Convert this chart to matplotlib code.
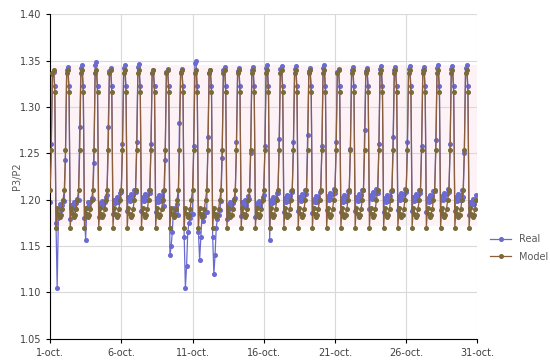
import numpy as np
import pandas as pd
import matplotlib
matplotlib.use('Agg')
import matplotlib.pyplot as plt

START = '2018-10-01'
N_DAYS = 30
STEPS = 12          # two-hourly samples

# two-hourly shape of one day for the model (peak in the early hours)
model_day = [1.210, 1.253, 1.336, 1.340, 1.316, 1.170,
             1.191, 1.185, 1.181, 1.184, 1.190, 1.200]

# two-hourly low-period shape of the measured ratio
real_day = [1.205, 1.260, 1.337, 1.340, 1.322, 1.185,
            1.200, 1.196, 1.203, 1.197, 1.202, 1.207]

real_peak = [1.338, 1.343, 1.345, 1.348, 1.342, 1.345, 1.346, 1.340, 1.341, 1.341,
             1.350, 1.340, 1.343, 1.342, 1.343, 1.345, 1.344, 1.344, 1.342, 1.345,
             1.341, 1.343, 1.342, 1.344, 1.343, 1.344, 1.343, 1.345, 1.344, 1.345]

real_rise = [1.260, 1.243, 1.278, 1.240, 1.278, 1.260, 1.262, 1.260, 1.243, 1.283,
             1.258, 1.268, 1.245, 1.262, 1.250, 1.258, 1.265, 1.262, 1.270, 1.258,
             1.262, 1.255, 1.275, 1.260, 1.268, 1.262, 1.258, 1.264, 1.260, 1.250]

real_shift = [-0.008, -0.006, -0.005, -0.004, 0.000, 0.003, 0.003, 0.002, -0.012, -0.022,
              -0.020, -0.018, -0.006, -0.003, -0.004, 0.000, 0.002, 0.003, 0.001, 0.004,
              0.002, 0.003, 0.005, 0.002, 0.004, 0.003, 0.002, 0.004, 0.003, -0.002]

# low excursions of the measured ratio: day -> {step: value}
real_dips = {
    0: {5: 1.175, 6: 1.105, 7: 1.180},
    2: {6: 1.157},
    8: {5: 1.140, 6: 1.150, 7: 1.165},
    9: {5: 1.160, 6: 1.105, 7: 1.128, 8: 1.165},
    10: {5: 1.165, 6: 1.135, 7: 1.160},
    11: {5: 1.160, 6: 1.120, 7: 1.140, 8: 1.170},
    15: {5: 1.157},
}

PEAK_STEPS = [2, 3]

times = pd.date_range(START, periods=N_DAYS * STEPS, freq='2h')
model = []
real = []
for d in range(N_DAYS):
    model.extend(model_day)
    for s in range(STEPS):
        if s in PEAK_STEPS:
            v = real_peak[d] + (real_day[s] - 1.340)
        elif s == 1:
            v = real_rise[d]
        elif s == 4:
            v = real_day[s]
        else:
            v = real_day[s] + real_shift[d]
        v = real_dips.get(d, {}).get(s, v)
        real.append(v)

REAL_COLOR = '#6a6ad2'
MODEL_COLOR = '#8b5e3c'

fig = plt.figure(figsize=(5.5, 3.62), dpi=100)
ax = fig.add_axes([0.091, 0.064, 0.777, 0.897])

ax.axhspan(1.172, 1.345, color='#fde6ef', alpha=0.5, zorder=0, lw=0)
ax.plot(times, real, color=REAL_COLOR, lw=0.9, marker='o', ms=2.6,
        mec=REAL_COLOR, mfc=REAL_COLOR, label='Real', zorder=2)
ax.plot(times, model, color=MODEL_COLOR, lw=0.9, marker='o', ms=2.6,
        mec='#7a6a3a', mfc='#7a6a3a', label='Model', zorder=3)

ax.set_ylim(1.05, 1.40)
ax.set_yticks(np.arange(1.05, 1.401, 0.05))
ax.yaxis.set_major_formatter(matplotlib.ticker.FormatStrFormatter('%.2f'))
ax.set_xlim(pd.Timestamp('2018-10-01'), pd.Timestamp('2018-10-31'))
xt = pd.date_range('2018-10-01', '2018-10-31', freq='5D')
ax.set_xticks(xt)
ax.set_xticklabels([f'{t.day}-oct.' for t in xt])

ax.grid(True, color='#d9d9d9', lw=0.8)
ax.set_axisbelow(True)
for s in ['top', 'right']:
    ax.spines[s].set_visible(False)
ax.spines['left'].set_color('black')
ax.spines['bottom'].set_color('black')
ax.tick_params(labelsize=7, colors='#404040', length=3)
ax.tick_params(axis='both', color='black')
ax.set_ylabel('P3/P2', fontsize=7, color='#595959')
ax.yaxis.set_label_coords(-0.065, 0.5)

fig.legend(loc='center left', bbox_to_anchor=(0.875, 0.315), frameon=False,
           fontsize=7, labelcolor='#595959', handlelength=2.2, labelspacing=0.8)

fig.savefig('out.png', dpi=100)
